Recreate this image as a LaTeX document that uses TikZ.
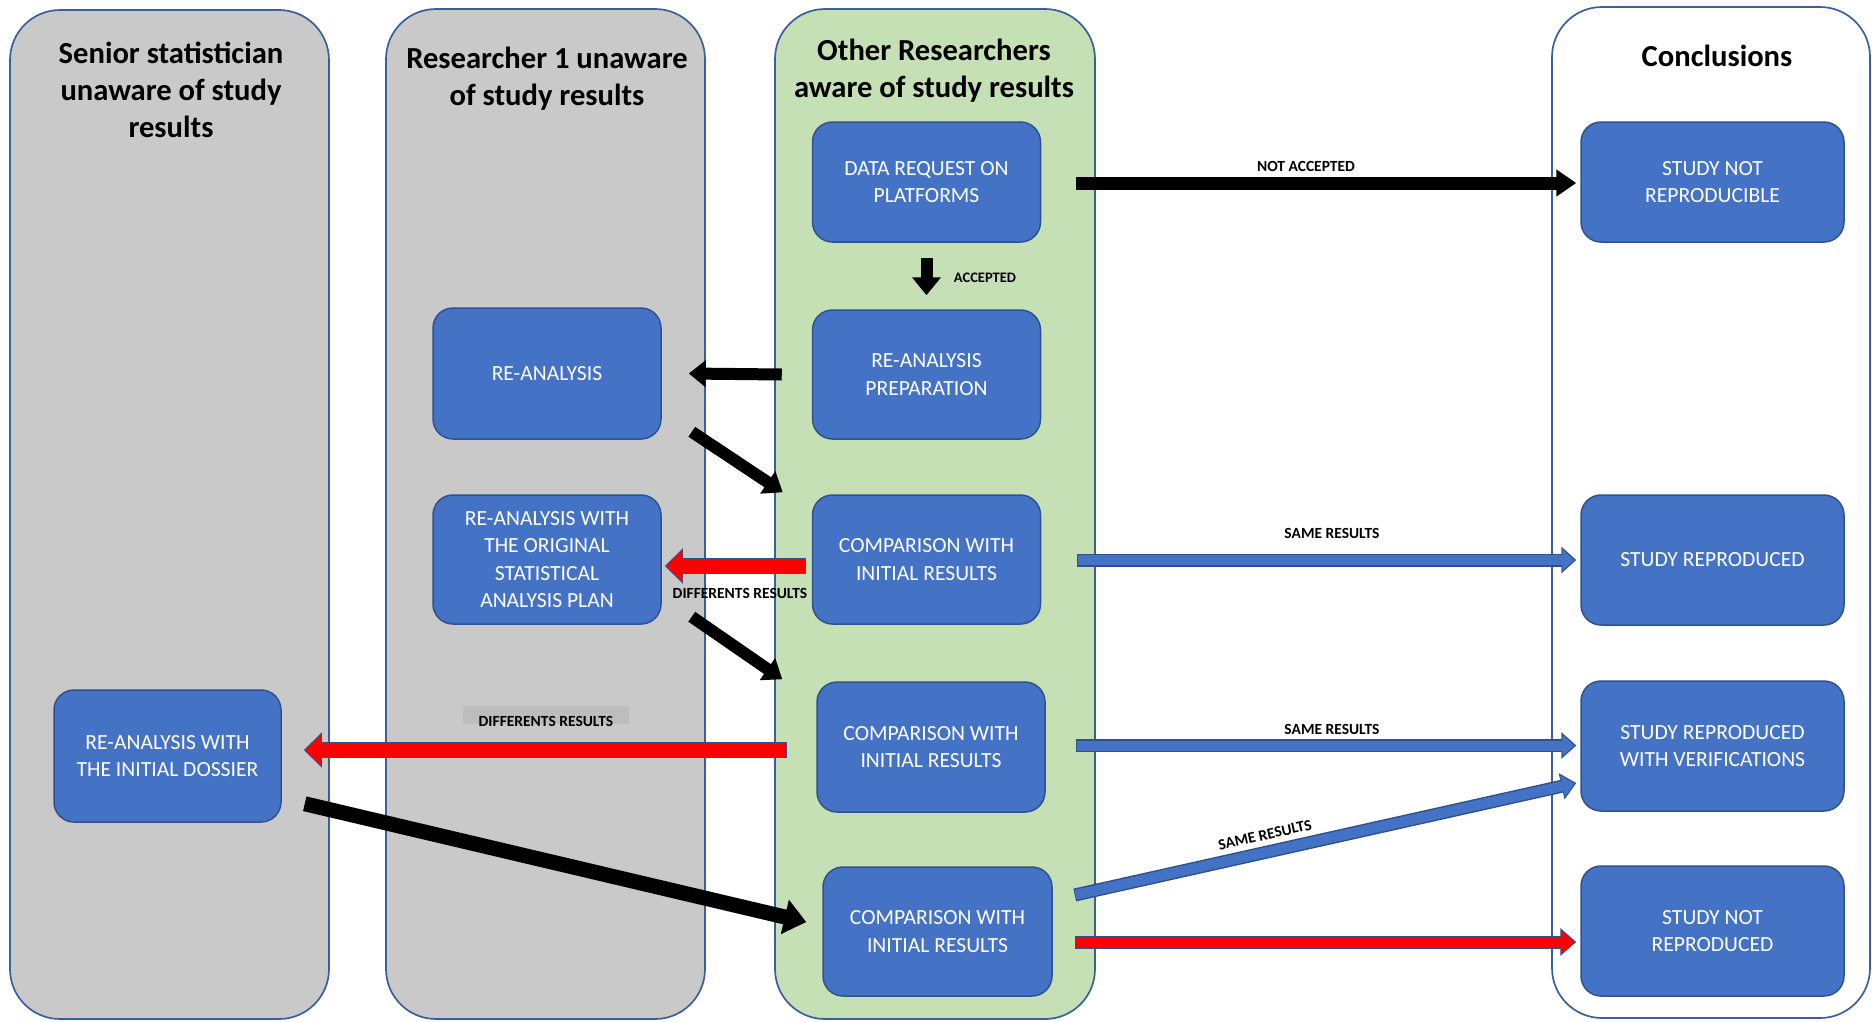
\documentclass[tikz,border=0pt]{standalone}
\usepackage{fontspec}
\setmainfont{Carlito}
\usetikzlibrary{arrows.meta,calc}
\definecolor{lanegrey}{HTML}{C9C9C9}
\definecolor{lanegreen}{HTML}{C5E0B4}
\definecolor{laneborder}{HTML}{3B5E9E}
\definecolor{boxblue}{HTML}{4472C4}
\definecolor{boxborder}{HTML}{2F528F}
\definecolor{arrowdark}{HTML}{2F528F}
\definecolor{lblgrey}{HTML}{BDBDBD}
\begin{document}
\begin{tikzpicture}[x=1pt,y=-1pt,
  lane/.style={draw=laneborder, line width=1.7pt, rounded corners=50pt, inner sep=0pt},
  box/.style={draw=boxborder, fill=boxblue, line width=1.5pt, rounded corners=20pt, text=white, align=center, font=\fontsize{21.6}{27.5}\selectfont, inner sep=0pt, minimum width=228pt, minimum height=129pt},
  concl/.style={box, minimum width=263pt, minimum height=130pt},
  head/.style={align=center, font=\fontsize{30.6}{37}\selectfont\bfseries, inner sep=0pt},
  lbl/.style={font=\fontsize{15.5}{18}\selectfont\bfseries, inner sep=0pt},
  blackarr/.style={draw=black, line width=12pt, -{Triangle[width=26pt,length=18pt]}},
  bluearr/.style={preaction={draw=arrowdark, line width=13pt, -{Triangle[width=26pt,length=15pt]}, shorten >=0pt, shorten <=0pt},
    draw=boxblue, line width=10pt, -{Triangle[width=21pt,length=12pt]}, shorten >=2pt, shorten <=1pt},
  redbig/.style={preaction={draw=arrowdark, line width=16.5pt, -{Triangle[width=34pt,length=18pt]}, shorten >=0pt, shorten <=0pt},
    draw=red, line width=14pt, -{Triangle[width=30pt,length=16pt]}, shorten >=1.5pt, shorten <=1pt},
  redsmall/.style={preaction={draw=arrowdark, line width=13pt, -{Triangle[width=27pt,length=16pt]}, shorten >=0pt, shorten <=0pt},
    draw=red, line width=11pt, -{Triangle[width=23pt,length=14pt]}, shorten >=1.5pt, shorten <=1pt}
]
\useasboundingbox (0,0) rectangle (1872,1021);

% lanes
\node[lane, fill=lanegrey, minimum width=319pt, minimum height=1009pt] (lane1) at (169.5,514.5) {};
\node[lane, fill=lanegrey, minimum width=319pt, minimum height=1010pt] (lane2) at (545.5,514) {};
\node[lane, fill=lanegreen, minimum width=320pt, minimum height=1010pt] (lane3) at (935,514) {};
\node[lane, fill=white, minimum width=318pt, minimum height=1011pt] (lane4) at (1711,512.5) {};

% headers
\node[head] (h1) at (171,89.5) {Senior statistician\\unaware of study\\results};
\node[head] (h2) at (547,78.5) {Researcher 1 unaware\\of study results};
\node[head] (h3) at (934,71) {Other Researchers\\aware of study results};
\node[head] (h4) at (1717,56) {Conclusions};

% boxes
\node[box, minimum height=120pt] (datareq) at (926.5,182) {DATA REQUEST ON\\PLATFORMS};
\node[concl, minimum height=120pt] (notrepible) at (1712.5,182) {STUDY NOT\\REPRODUCIBLE};
\node[box, minimum height=131pt] (reanal) at (547,373.5) {RE-ANALYSIS};
\node[box] (prep) at (926.5,374.5) {RE-ANALYSIS\\PREPARATION};
\node[box] (origplan) at (547,559.5) {RE-ANALYSIS WITH\\THE ORIGINAL\\STATISTICAL\\ANALYSIS PLAN};
\node[box] (cmp1) at (926.5,559.5) {COMPARISON WITH\\INITIAL RESULTS};
\node[box, minimum width=227pt, minimum height=132pt] (dossier) at (167.5,756) {RE-ANALYSIS WITH\\THE INITIAL DOSSIER};
\node[box, minimum height=130pt] (cmp2) at (931,747) {COMPARISON WITH\\INITIAL RESULTS};
\node[box, minimum width=229pt] (cmp3) at (937.5,931.5) {COMPARISON WITH\\INITIAL RESULTS};
\node[concl] (repr) at (1712.5,560) {STUDY REPRODUCED};
\node[concl] (verif) at (1712.5,746) {STUDY REPRODUCED\\WITH VERIFICATIONS};
\node[concl] (notrep) at (1712.5,931) {STUDY NOT\\REPRODUCED};

% arrows
\draw[blackarr, line width=13pt, -{Triangle[width=26pt,length=20pt]}] ($(datareq.east)+(35,1)$) -- ($(notrepible.west)+(-4,1)$);
\node[lbl] (lnotacc) at (1306,166) {NOT ACCEPTED};

\draw[blackarr, -{Triangle[width=28pt,length=18pt]}] ($(datareq.south)+(0,15)$) -- ($(prep.north)+(0,-14)$);
\node[lbl, font=\fontsize{14.5}{17}\selectfont\bfseries] (lacc) at (985,278) {ACCEPTED};

\draw[blackarr, -{Triangle[width=26pt,length=17pt]}] ($(prep.west)+(-30,0)$) -- ($(reanal.east)+(27,0)$);

\draw[blackarr] ($(reanal.south east)+(30,-8)$) -- ($(cmp1.north west)+(-29,-2)$);

\draw[redbig] ($(cmp1.west)+(-6,6.5)$) -- ($(origplan.east)+(3,6.5)$);
\node[lbl] (ldiff1) at (740,593) {DIFFERENTS RESULTS};

\draw[blackarr] ($(origplan.south east)+(30,-8)$) -- ($(cmp2.north west)+(-34,-2)$);

\node[fill=lblgrey, minimum width=166pt, minimum height=18pt, inner sep=0pt] (lblbg) at (546,715) {};
\node[lbl] (ldiff2) at (546,721) {DIFFERENTS RESULTS};
\draw[redbig, line width=15pt, preaction={line width=17.5pt}] ($(cmp2.west)+(-29,3)$) -- ($(dossier.east)+(22,-6)$);

\draw[blackarr, line width=15pt, -{Triangle[width=34pt,length=22pt]}] ($(dossier.south east)+(23,-19)$) -- ($(cmp3.west)+(-16,-9.5)$);

\draw[bluearr] ($(cmp1.east)+(36,0.5)$) -- ($(repr.west)+(-4,0)$);
\node[lbl] (lsame1) at (1332,533) {SAME RESULTS};

\draw[bluearr] ($(cmp2.east)+(30,-1.5)$) -- ($(verif.west)+(-4,-0.5)$);
\node[lbl] (lsame2) at (1332,729) {SAME RESULTS};

\draw[bluearr] ($(cmp3.east)+(22,-36.5)$) -- ($(verif.west)+(-4,37)$);
\node[lbl, rotate=12.6] (lsame3) at (1265,835) {SAME RESULTS};

\draw[redsmall] ($(cmp3.east)+(22,10.5)$) -- ($(notrep.west)+(-4,11)$);
\end{tikzpicture}
\end{document}
